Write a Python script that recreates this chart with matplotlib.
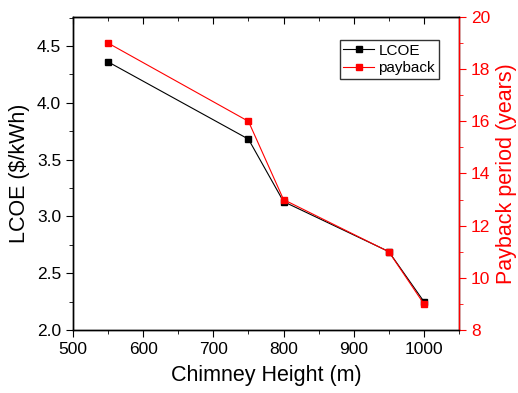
import matplotlib
matplotlib.use('Agg')
import matplotlib.pyplot as plt
import matplotlib.ticker as ticker

plt.rcParams['font.family'] = ['Liberation Sans', 'DejaVu Sans']

# chimney height (m)
height = [550, 750, 800, 950, 1000]
# LCOE ($/kWh)
lcoe = [4.36, 3.68, 3.13, 2.69, 2.25]
# payback period (years)
payback = [19.0, 16.0, 13.0, 11.0, 9.0]

fig = plt.figure(figsize=(5.18, 3.93), dpi=100)
ax = fig.add_axes([73/518, 1 - 330/393, (459-73)/518, (330-17)/393])
ax2 = ax.twinx()

l1, = ax.plot(height, lcoe, color='black', lw=0.8, marker='s', ms=5, label='LCOE')
l2, = ax2.plot(height, payback, color='red', lw=0.8, marker='s', ms=5, label='payback')

ax.set_xlim(500, 1050)
ax.set_ylim(2.0, 4.755)
ax2.set_ylim(8, 20)

ax.xaxis.set_major_locator(ticker.MultipleLocator(100))
ax.xaxis.set_minor_locator(ticker.MultipleLocator(50))
ax.yaxis.set_major_locator(ticker.MultipleLocator(0.5))
ax.yaxis.set_minor_locator(ticker.MultipleLocator(0.25))
ax.yaxis.set_major_formatter(ticker.FormatStrFormatter('%.1f'))
ax2.yaxis.set_major_locator(ticker.MultipleLocator(2))
ax2.yaxis.set_minor_locator(ticker.MultipleLocator(1))

ax.tick_params(axis='both', which='major', direction='out', length=5, labelsize=12.5)
ax.tick_params(axis='both', which='minor', direction='out', length=3)
ax2.tick_params(axis='y', which='major', colors='red', direction='out', length=5, labelsize=12.5)
ax2.tick_params(axis='y', which='minor', colors='red', direction='out', length=3)

# inward ticks along the top edge
top = ax.secondary_xaxis('top')
top.xaxis.set_major_locator(ticker.MultipleLocator(100))
top.xaxis.set_minor_locator(ticker.MultipleLocator(50))
top.tick_params(which='major', direction='in', length=5, labeltop=False)
top.tick_params(which='minor', direction='in', length=3)

ax2.spines['right'].set_color('red')
for a in (ax, ax2):
    for s in a.spines.values():
        s.set_linewidth(1)

ax.set_xlabel('Chimney Height (m)', fontsize=15.5, labelpad=6)
ax.set_ylabel('LCOE ($/kWh)', fontsize=15.5, labelpad=5)
ax2.set_ylabel('Payback period (years)', fontsize=15.5, color='red', labelpad=4)

leg = ax.legend(handles=[l1, l2], loc='upper right', bbox_to_anchor=(0.948, 0.927),
                borderaxespad=0, fontsize=11, frameon=True, fancybox=False,
                edgecolor='black', handlelength=2, borderpad=0.25,
                labelspacing=0.25, handletextpad=0.3)
leg.get_frame().set_linewidth(1)

fig.savefig('out.png', dpi=100)
